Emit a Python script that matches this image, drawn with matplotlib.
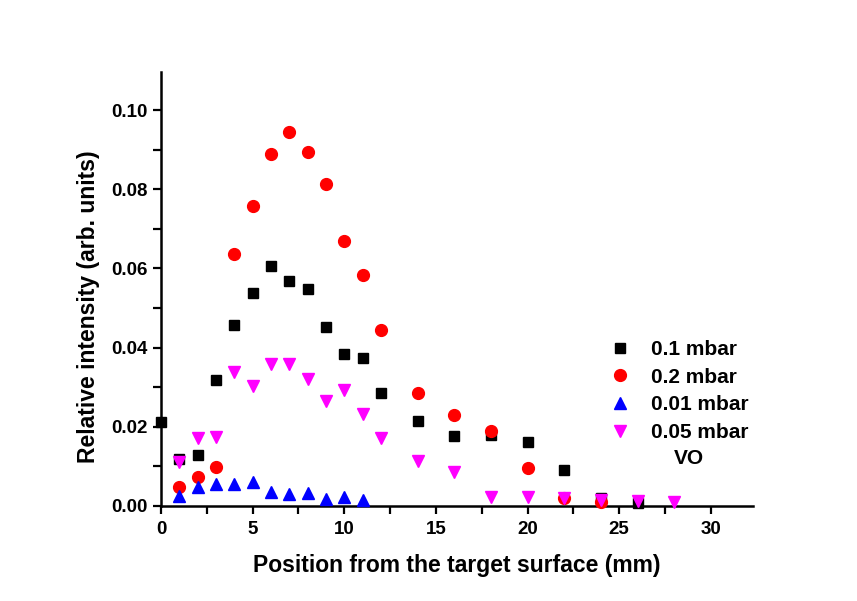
import matplotlib
matplotlib.use("Agg")
import matplotlib.pyplot as plt
from matplotlib.ticker import MultipleLocator

plt.rcParams['font.family'] = ['Liberation Sans', 'DejaVu Sans']
plt.rcParams['font.weight'] = 'bold'

x_01 = [0, 1, 2, 3, 4, 5, 6, 7, 8, 9, 10, 11, 12, 14, 16, 18, 20, 22, 24, 26]
y_01 = [0.0212, 0.0119, 0.0129, 0.0318, 0.0458, 0.0537, 0.0607, 0.0569, 0.0548, 0.0452,
        0.0384, 0.0375, 0.0285, 0.0215, 0.0176, 0.0179, 0.0162, 0.0090, 0.0019, 0.0008]

x_02 = [1, 2, 3, 4, 5, 6, 7, 8, 9, 10, 11, 12, 14, 16, 18, 20, 22, 24]
y_02 = [0.0047, 0.0072, 0.0098, 0.0636, 0.0758, 0.0890, 0.0945, 0.0894, 0.0813, 0.0669,
        0.0583, 0.0445, 0.0285, 0.0229, 0.0190, 0.0096, 0.0021, 0.0011]

x_001 = [1, 2, 3, 4, 5, 6, 7, 8, 9, 10, 11]
y_001 = [0.0025, 0.0047, 0.0056, 0.0055, 0.0060, 0.0035, 0.0031, 0.0034, 0.0017, 0.0023, 0.0015]

x_005 = [1, 2, 3, 4, 5, 6, 7, 8, 9, 10, 11, 12, 14, 16, 18, 20, 22, 24, 26, 28]
y_005 = [0.0112, 0.0171, 0.0173, 0.0339, 0.0303, 0.0358, 0.0359, 0.0321, 0.0266, 0.0293,
         0.0232, 0.0172, 0.0114, 0.0085, 0.0022, 0.0022, 0.0019, 0.0015, 0.0013, 0.0011]

labels = ['0.1 mbar', '0.2 mbar', '0.01 mbar', '0.05 mbar']

fig = plt.figure(figsize=(8.57, 6.01), dpi=100)
ax = fig.add_axes([161/857, 1-506/601, (753-161)/857, (506-72)/601])

ax.plot(x_01, y_01, ls='none', marker='s', ms=7.5, color='black', label=labels[0], clip_on=False, zorder=3)
ax.plot(x_02, y_02, ls='none', marker='o', ms=8.5, color='#ff0000', label=labels[1], clip_on=False, zorder=3)
ax.plot(x_001, y_001, ls='none', marker='^', ms=9, color='#0000ff', label=labels[2], clip_on=False, zorder=4)
ax.plot(x_005, y_005, ls='none', marker='v', ms=9, color='#ff00ff', label=labels[3], clip_on=False, zorder=5)

ax.set_xlim(0, 32.3)
ax.set_ylim(0, 0.1096)
ax.xaxis.set_major_locator(MultipleLocator(5))
ax.xaxis.set_minor_locator(MultipleLocator(2.5))
ax.yaxis.set_major_locator(MultipleLocator(0.02))
ax.yaxis.set_minor_locator(MultipleLocator(0.01))
ax.yaxis.set_major_formatter(matplotlib.ticker.FormatStrFormatter('%.2f'))

for s in ['top', 'right']:
    ax.spines[s].set_visible(False)
for s in ['left', 'bottom']:
    ax.spines[s].set_linewidth(1.8)
ax.tick_params(which='both', direction='out', length=6, width=1.6, labelsize=13.5)
ax.tick_params(axis='x', pad=5)

ax.set_xlabel('Position from the target surface (mm)', fontsize=16.5, fontweight='bold', labelpad=11)
ax.set_ylabel('Relative intensity (arb. units)', fontsize=16.5, fontweight='bold', labelpad=8)
ax.yaxis.label.set_y(0.4585)

leg = ax.legend(loc='upper left', bbox_to_anchor=(0.758, 0.382), frameon=False,
                fontsize=15, handletextpad=0.99, labelspacing=0.41, borderpad=0,
                handlelength=1.0, borderaxespad=0)
ax.text(0.867, 0.110, 'VO', transform=ax.transAxes, fontsize=15, fontweight='bold', va='center')

fig.savefig('out.png', dpi=100)
